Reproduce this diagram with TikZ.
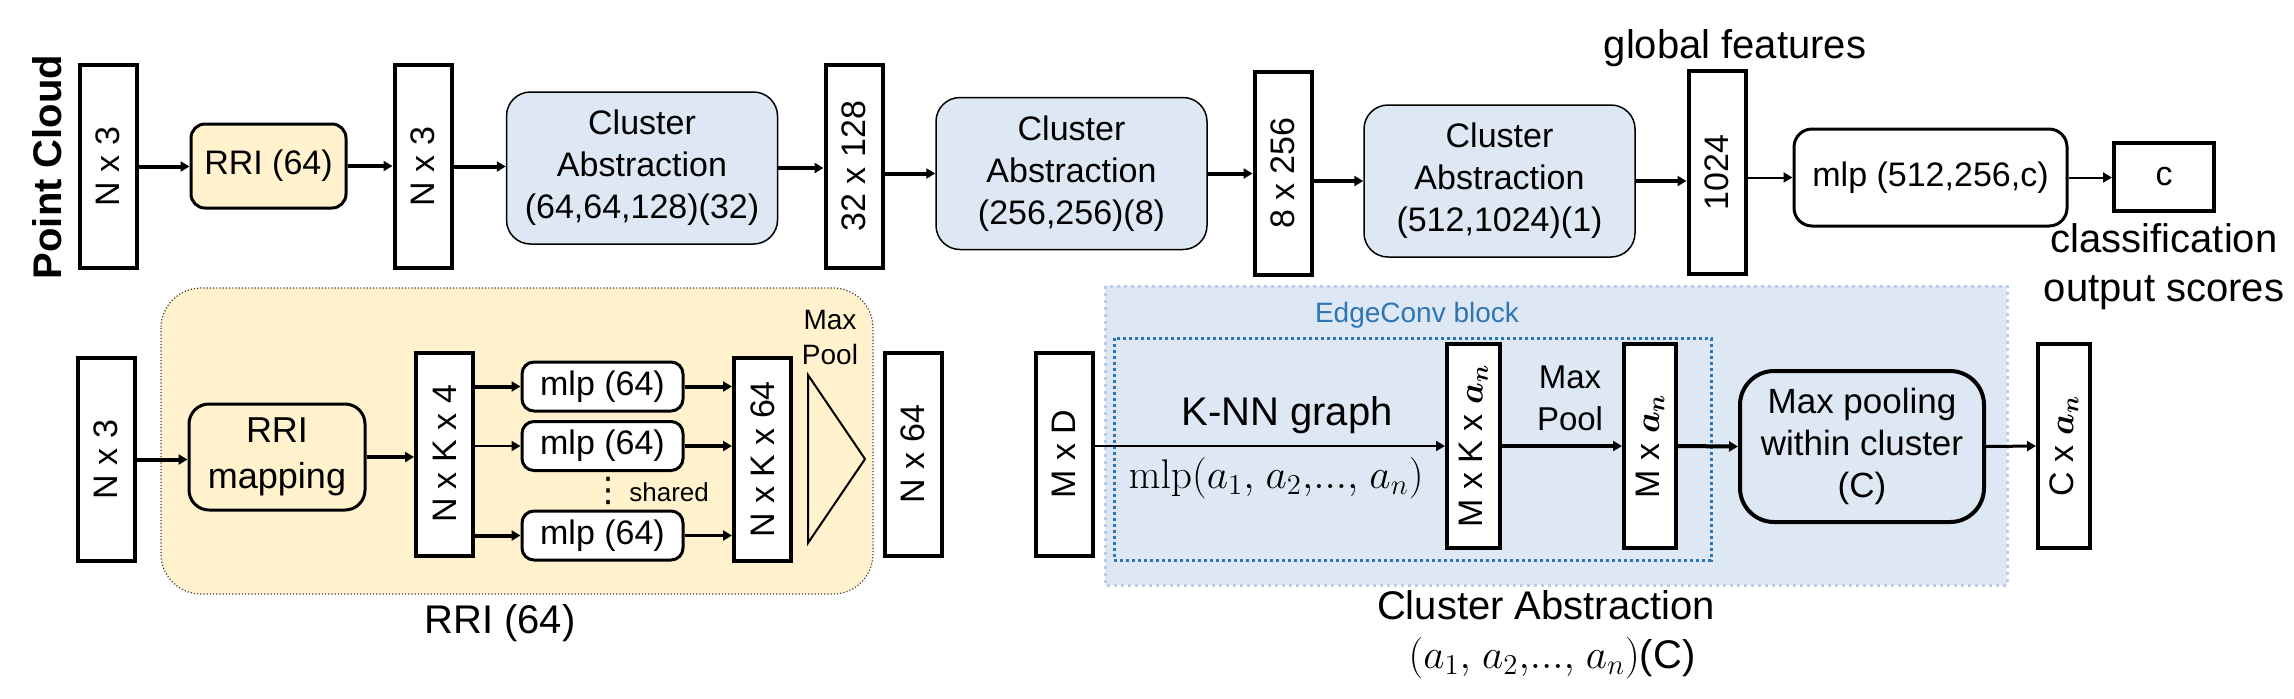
\documentclass[tikz,border=0pt]{standalone}
\usepackage[no-math]{fontspec}
\setmainfont{Liberation Sans}
\newfontfamily\dotsfont{DejaVu Sans}
\usepackage{graphicx}
\usepackage{bm}
\usetikzlibrary{arrows.meta}

\definecolor{rriyellow}{RGB}{255,242,204}
\definecolor{clublue}{RGB}{222,232,245}
\definecolor{clubluedge}{RGB}{184,205,234}
\definecolor{edgeblue}{RGB}{46,117,182}

\newcommand{\fsbox}{\fontsize{17}{21}\selectfont}
\newcommand{\fsbig}{\fontsize{20}{24.5}\selectfont}
\newcommand{\fssmall}{\fontsize{14}{17.5}\selectfont}
\newcommand{\an}{$\bm{a_n}$}
\newcommand{\avec}{a_1{,}\ a_2{,}{.}{.}{.}{,}\ a_n}

\begin{document}
\begin{tikzpicture}[x=0.5pt,y=0.5pt,yscale=-1,
  tensor/.style={draw,line width=2pt,fill=white,inner sep=0pt,minimum width=28.5pt,minimum height=101.5pt,font=\fsbox},
  cabox/.style={draw,line width=0.75pt,fill=clublue,rounded corners=12pt,inner sep=0pt,minimum width=135.5pt,minimum height=76pt,align=center,font=\fsbox},
  mlpbox/.style={draw,line width=1.5pt,fill=white,rounded corners=6pt,inner sep=0pt,minimum width=80.5pt,minimum height=24.5pt,font=\fsbox},
  arr/.style={-{Triangle[length=4.5pt,width=5pt]},line width=2pt},
  midarr/.style={-{Triangle[length=4.5pt,width=5pt]},line width=1.5pt},
  thinarr/.style={-{Triangle[length=4.5pt,width=5pt]},line width=1pt}]
\useasboundingbox (0,0) rectangle (2294,698);

%Shape: Rounded Rect [id:rri block]
\path [fill=rriyellow,draw=black!75,densely dotted,line width=0.6pt,rounded corners=20pt] (161,288) rectangle (873,594);
%Shape: Rectangle [id:cluster block]
\path [fill=clublue,draw=clubluedge,dotted,line width=1.5pt] (1105,286) rectangle (2007,585);
%Shape: Rectangle [id:edgeconv block]
\draw [edgeblue,line width=1.5pt,dash pattern=on 1.5pt off 1.5pt] (1114,338) rectangle (1711,560);

% Text Node
\node (pc) [font=\bfseries\fsbig] at (47,167) {\rotatebox{90}{Point Cloud}};

%top row
\node (in1) [tensor] at (108,166.5) {\rotatebox{90}{N x 3}};
\node (rri1) [draw,line width=1.5pt,fill=rriyellow,rounded corners=7pt,minimum width=77.5pt,minimum height=42pt,inner sep=0pt,font=\fsbox] at (268.5,166) {RRI (64)};
\node (in2) [tensor] at (423,166.5) {\rotatebox{90}{N x 3}};
\node (ca1) [cabox] at (642,168) {Cluster\\Abstraction\\(64,64,128)(32)};
\node (t32) [tensor] at (854,166) {\rotatebox{90}{32 x 128}};
\node (ca2) [cabox] at (1071.5,173.5) {Cluster\\Abstraction\\(256,256)(8)};
\node (t8) [tensor] at (1283,173) {\rotatebox{90}{8 x 256}};
\node (ca3) [cabox] at (1499.5,181) {Cluster\\Abstraction\\(512,1024)(1)};
\node (gf) [tensor] at (1717,172.5) {\rotatebox{90}{1024}};
\node (mlp) [draw,line width=1.5pt,fill=white,rounded corners=9pt,minimum width=136.5pt,minimum height=48.5pt,inner sep=0pt,font=\fsbox] at (1930.5,177.5) {mlp (512,256,c)};
\node (cout) [draw,line width=2pt,fill=white,minimum width=50pt,minimum height=34pt,inner sep=0pt,font=\fsbox] at (2164,177) {c};

% Text Node
\node (glob) [font=\fsbig] at (1735,48) {global features};
% Text Node
\node (cls) [font=\fsbig,align=center] at (2164,267) {classification\\output scores};

%Straight Lines
\draw [arr] (in1.east) -- (in1.east -| rri1.west);
\draw [arr] (rri1.east) -- (rri1.east -| in2.west);
\draw [arr] (in2.east) -- (in2.east -| ca1.west);
\draw [arr] (ca1.east) -- (ca1.east -| t32.west);
\draw [arr] (t32.east |- ca2.west) -- (ca2.west);
\draw [arr] (ca2.east) -- (ca2.east -| t8.west);
\draw [arr] (t8.east |- ca3.west) -- (ca3.west);
\draw [arr] (ca3.east) -- (ca3.east -| gf.west);
\draw [thinarr] (gf.east |- mlp.west) -- (mlp.west);
\draw [thinarr] (mlp.east) -- (mlp.east -| cout.west);

%RRI block
\node (in3) [tensor] at (106,459.5) {\rotatebox{90}{N x 3}};
\node (map) [draw,line width=1.5pt,fill=rriyellow,rounded corners=10pt,minimum width=88pt,minimum height=53pt,inner sep=0pt,align=center,font=\fontsize{18}{23}\selectfont] at (277,457) {RRI\\mapping};
\node (nk4) [tensor] at (444.5,454) {\rotatebox{90}{N x K x 4}};
\node (mlpa) [mlpbox] at (602.5,386.5) {mlp (64)};
\node (mlpb) [mlpbox] at (602.5,446) {mlp (64)};
\node (mlpc) [mlpbox] at (602.5,535.5) {mlp (64)};
\node (shr) [font=\fontsize{13}{15}\selectfont,inner sep=0pt] at (650,491) {{\dotsfont\fontsize{17}{17}\selectfont ⋮}\,shared};
\node (nk64) [tensor] at (762.5,459.5) {\rotatebox{90}{N x K x 64}};
\node (mx1) [font=\fssmall,align=center] at (830,337) {Max\\Pool};
\node (n64) [tensor] at (913,454) {\rotatebox{90}{N x 64}};
%Shape: Triangle
\draw [line width=1pt] (808,375) -- (865,459) -- (808,543) -- cycle;
% Text Node
\node (rrilab) [font=\fsbig] at (500,623) {RRI (64)};

\draw [arr] (in3.east) -- (in3.east -| map.west);
\draw [arr] (map.east) -- (map.east -| nk4.west);
\draw [arr] (nk4.east |- mlpa.west) -- (mlpa.west);
\draw [thinarr] (nk4.east |- mlpb.west) -- (mlpb.west);
\draw [arr] (nk4.east |- mlpc.west) -- (mlpc.west);
\draw [arr] (mlpa.east) -- (mlpa.east -| nk64.west);
\draw [arr] (mlpb.east) -- (mlpb.east -| nk64.west);
\draw [midarr] (mlpc.east) -- (mlpc.east -| nk64.west);

%Cluster Abstraction block
\node (md) [tensor] at (1064,454) {\rotatebox{90}{M x D}};
\node (edgelab) [font=\fssmall,text=edgeblue] at (1417,315) {EdgeConv block};
\node (mk) [tensor,minimum width=26.5pt,minimum height=102pt] at (1473.5,446) {\rotatebox{90}{M x K x \an}};
\node (knn) [font=\fsbig] at (1287,415) {K-NN graph};
\node (mlpf) [font=\fsbig] at (1276,478) {$\mathrm{mlp}(\avec)$};
\node (mx2) [font=\fontsize{16.5}{21}\selectfont,align=center] at (1570,398) {Max\\Pool};
\node (ma) [tensor,minimum width=26pt,minimum height=102pt] at (1650,446) {\rotatebox{90}{M x \an}};
\node (mp) [draw,line width=2pt,fill=clublue,rounded corners=17pt,minimum width=122pt,minimum height=75.5pt,inner sep=0pt,align=center,font=\fontsize{17.5}{21}\selectfont] at (1862,446.5) {Max pooling\\within cluster\\(C)};
\node (can) [tensor,minimum width=26pt,minimum height=102pt] at (2064,446) {\rotatebox{90}{C x \an}};
% Text Node
\node (calab) [font=\fsbig] at (1546,605) {Cluster Abstraction};
\node (calab2) [font=\fsbig] at (1552,658) {$(\avec)$(C)};

\draw [thinarr] (md.east |- mk.west) -- (mk.west);
\draw [arr] (mk.east) -- (ma.west);
\draw [arr] (ma.east) -- (mp.west);
\draw [midarr] (mp.east) -- (can.west);

\end{tikzpicture}
\end{document}
